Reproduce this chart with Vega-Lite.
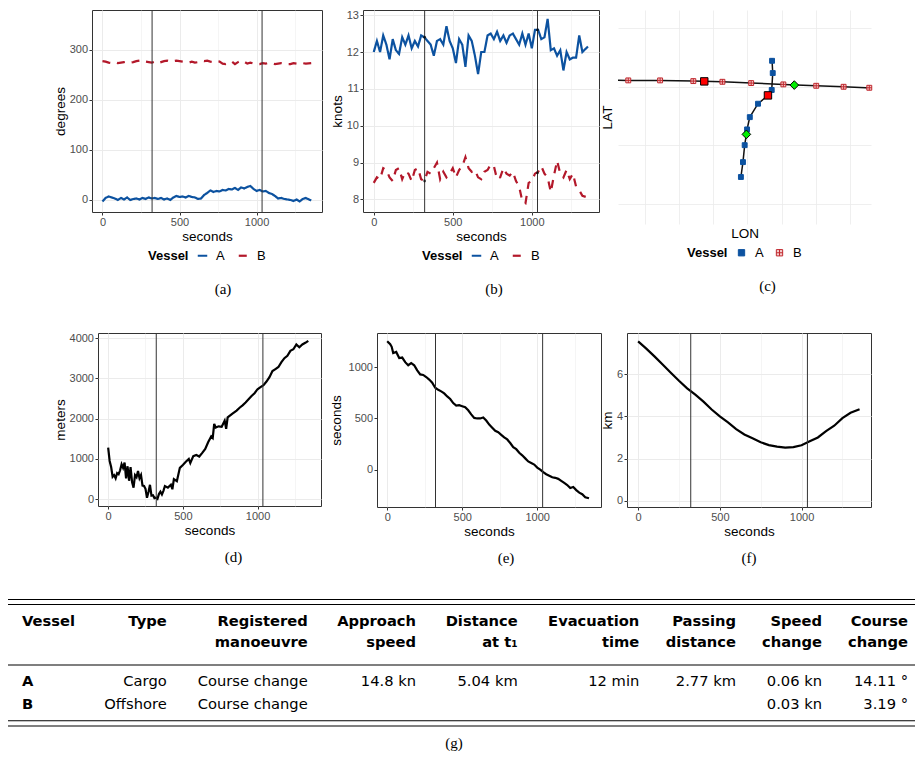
{
"$schema": "https://vega.github.io/schema/vega-lite/v6.json",
"padding": {"left": 7, "top": 8, "right": 0, "bottom": 0},
"datasets": {
"course": [
{"t":0,"Vessel":"A","deg":-3},{"t":20,"Vessel":"A","deg":4},{"t":40,"Vessel":"A","deg":7},{"t":60,"Vessel":"A","deg":5},{"t":80,"Vessel":"A","deg":3},{"t":100,"Vessel":"A","deg":0},{"t":120,"Vessel":"A","deg":4},{"t":140,"Vessel":"A","deg":1},{"t":160,"Vessel":"A","deg":5},{"t":180,"Vessel":"A","deg":0},{"t":200,"Vessel":"A","deg":2},{"t":220,"Vessel":"A","deg":3},{"t":240,"Vessel":"A","deg":1},{"t":260,"Vessel":"A","deg":4},{"t":280,"Vessel":"A","deg":2},{"t":300,"Vessel":"A","deg":5},{"t":320,"Vessel":"A","deg":3},{"t":340,"Vessel":"A","deg":4},{"t":360,"Vessel":"A","deg":2},{"t":380,"Vessel":"A","deg":4},{"t":400,"Vessel":"A","deg":1},{"t":420,"Vessel":"A","deg":3},{"t":440,"Vessel":"A","deg":0},{"t":460,"Vessel":"A","deg":5},{"t":480,"Vessel":"A","deg":8},{"t":500,"Vessel":"A","deg":6},{"t":520,"Vessel":"A","deg":7},{"t":540,"Vessel":"A","deg":5},{"t":560,"Vessel":"A","deg":8},{"t":580,"Vessel":"A","deg":6},{"t":600,"Vessel":"A","deg":5},{"t":620,"Vessel":"A","deg":2},{"t":640,"Vessel":"A","deg":3},{"t":660,"Vessel":"A","deg":10},{"t":680,"Vessel":"A","deg":14},{"t":700,"Vessel":"A","deg":19},{"t":720,"Vessel":"A","deg":16},{"t":740,"Vessel":"A","deg":18},{"t":760,"Vessel":"A","deg":17},{"t":780,"Vessel":"A","deg":20},{"t":800,"Vessel":"A","deg":19},{"t":820,"Vessel":"A","deg":22},{"t":840,"Vessel":"A","deg":21},{"t":860,"Vessel":"A","deg":24},{"t":880,"Vessel":"A","deg":20},{"t":900,"Vessel":"A","deg":25},{"t":920,"Vessel":"A","deg":23},{"t":940,"Vessel":"A","deg":26},{"t":960,"Vessel":"A","deg":28},{"t":980,"Vessel":"A","deg":22},{"t":1000,"Vessel":"A","deg":18},{"t":1020,"Vessel":"A","deg":20},{"t":1040,"Vessel":"A","deg":17},{"t":1060,"Vessel":"A","deg":18},{"t":1080,"Vessel":"A","deg":14},{"t":1100,"Vessel":"A","deg":12},{"t":1120,"Vessel":"A","deg":8},{"t":1140,"Vessel":"A","deg":3},{"t":1160,"Vessel":"A","deg":4},{"t":1180,"Vessel":"A","deg":2},{"t":1200,"Vessel":"A","deg":1},{"t":1220,"Vessel":"A","deg":0},{"t":1240,"Vessel":"A","deg":-2},{"t":1260,"Vessel":"A","deg":1},{"t":1280,"Vessel":"A","deg":-3},{"t":1300,"Vessel":"A","deg":2},{"t":1320,"Vessel":"A","deg":4},{"t":1355,"Vessel":"A","deg":-1},
{"t":0,"Vessel":"B","deg":277},{"t":20,"Vessel":"B","deg":276},{"t":40,"Vessel":"B","deg":274},{"t":60,"Vessel":"B","deg":273},{"t":80,"Vessel":"B","deg":275},{"t":100,"Vessel":"B","deg":273},{"t":120,"Vessel":"B","deg":274},{"t":140,"Vessel":"B","deg":275},{"t":160,"Vessel":"B","deg":276},{"t":180,"Vessel":"B","deg":274},{"t":200,"Vessel":"B","deg":275},{"t":220,"Vessel":"B","deg":277},{"t":240,"Vessel":"B","deg":278},{"t":260,"Vessel":"B","deg":279},{"t":280,"Vessel":"B","deg":276},{"t":300,"Vessel":"B","deg":275},{"t":320,"Vessel":"B","deg":274},{"t":340,"Vessel":"B","deg":276},{"t":360,"Vessel":"B","deg":273},{"t":380,"Vessel":"B","deg":275},{"t":400,"Vessel":"B","deg":277},{"t":420,"Vessel":"B","deg":278},{"t":440,"Vessel":"B","deg":276},{"t":460,"Vessel":"B","deg":277},{"t":480,"Vessel":"B","deg":278},{"t":500,"Vessel":"B","deg":277},{"t":520,"Vessel":"B","deg":276},{"t":540,"Vessel":"B","deg":275},{"t":560,"Vessel":"B","deg":274},{"t":580,"Vessel":"B","deg":276},{"t":600,"Vessel":"B","deg":274},{"t":620,"Vessel":"B","deg":275},{"t":640,"Vessel":"B","deg":278},{"t":660,"Vessel":"B","deg":277},{"t":680,"Vessel":"B","deg":278},{"t":700,"Vessel":"B","deg":276},{"t":720,"Vessel":"B","deg":275},{"t":740,"Vessel":"B","deg":277},{"t":760,"Vessel":"B","deg":276},{"t":780,"Vessel":"B","deg":272},{"t":800,"Vessel":"B","deg":271},{"t":820,"Vessel":"B","deg":274},{"t":840,"Vessel":"B","deg":276},{"t":860,"Vessel":"B","deg":271},{"t":880,"Vessel":"B","deg":275},{"t":900,"Vessel":"B","deg":278},{"t":920,"Vessel":"B","deg":276},{"t":940,"Vessel":"B","deg":272},{"t":960,"Vessel":"B","deg":274},{"t":980,"Vessel":"B","deg":272},{"t":1000,"Vessel":"B","deg":271},{"t":1020,"Vessel":"B","deg":271},{"t":1040,"Vessel":"B","deg":273},{"t":1060,"Vessel":"B","deg":272},{"t":1080,"Vessel":"B","deg":274},{"t":1100,"Vessel":"B","deg":273},{"t":1120,"Vessel":"B","deg":271},{"t":1140,"Vessel":"B","deg":272},{"t":1160,"Vessel":"B","deg":273},{"t":1180,"Vessel":"B","deg":272},{"t":1200,"Vessel":"B","deg":271},{"t":1220,"Vessel":"B","deg":271},{"t":1240,"Vessel":"B","deg":273},{"t":1260,"Vessel":"B","deg":272},{"t":1280,"Vessel":"B","deg":274},{"t":1300,"Vessel":"B","deg":273},{"t":1320,"Vessel":"B","deg":272},{"t":1355,"Vessel":"B","deg":273}
],
"speed": [
{"t":0,"Vessel":"A","kn":12.0},{"t":20,"Vessel":"A","kn":12.3},{"t":40,"Vessel":"A","kn":12.0},{"t":60,"Vessel":"A","kn":12.45},{"t":80,"Vessel":"A","kn":12.2},{"t":100,"Vessel":"A","kn":11.8},{"t":120,"Vessel":"A","kn":12.35},{"t":140,"Vessel":"A","kn":12.05},{"t":160,"Vessel":"A","kn":11.95},{"t":180,"Vessel":"A","kn":12.4},{"t":200,"Vessel":"A","kn":12.2},{"t":220,"Vessel":"A","kn":12.45},{"t":240,"Vessel":"A","kn":12.1},{"t":260,"Vessel":"A","kn":12.3},{"t":280,"Vessel":"A","kn":12.15},{"t":300,"Vessel":"A","kn":12.45},{"t":320,"Vessel":"A","kn":12.4},{"t":340,"Vessel":"A","kn":12.3},{"t":360,"Vessel":"A","kn":12.2},{"t":380,"Vessel":"A","kn":11.9},{"t":400,"Vessel":"A","kn":12.3},{"t":420,"Vessel":"A","kn":12.35},{"t":440,"Vessel":"A","kn":12.2},{"t":460,"Vessel":"A","kn":12.7},{"t":480,"Vessel":"A","kn":12.3},{"t":500,"Vessel":"A","kn":12.1},{"t":520,"Vessel":"A","kn":11.7},{"t":540,"Vessel":"A","kn":12.35},{"t":560,"Vessel":"A","kn":12.2},{"t":580,"Vessel":"A","kn":11.6},{"t":600,"Vessel":"A","kn":12.45},{"t":620,"Vessel":"A","kn":12.3},{"t":640,"Vessel":"A","kn":11.9},{"t":660,"Vessel":"A","kn":11.4},{"t":680,"Vessel":"A","kn":12.0},{"t":700,"Vessel":"A","kn":12.0},{"t":720,"Vessel":"A","kn":12.45},{"t":740,"Vessel":"A","kn":12.5},{"t":760,"Vessel":"A","kn":12.35},{"t":780,"Vessel":"A","kn":12.55},{"t":800,"Vessel":"A","kn":12.3},{"t":820,"Vessel":"A","kn":12.45},{"t":840,"Vessel":"A","kn":12.25},{"t":860,"Vessel":"A","kn":12.45},{"t":880,"Vessel":"A","kn":12.5},{"t":900,"Vessel":"A","kn":12.35},{"t":920,"Vessel":"A","kn":12.2},{"t":940,"Vessel":"A","kn":12.5},{"t":960,"Vessel":"A","kn":12.2},{"t":980,"Vessel":"A","kn":12.5},{"t":1000,"Vessel":"A","kn":12.1},{"t":1020,"Vessel":"A","kn":12.6},{"t":1040,"Vessel":"A","kn":12.6},{"t":1060,"Vessel":"A","kn":12.35},{"t":1080,"Vessel":"A","kn":12.4},{"t":1100,"Vessel":"A","kn":12.9},{"t":1120,"Vessel":"A","kn":12.05},{"t":1140,"Vessel":"A","kn":12.1},{"t":1160,"Vessel":"A","kn":11.9},{"t":1180,"Vessel":"A","kn":12.05},{"t":1200,"Vessel":"A","kn":11.5},{"t":1220,"Vessel":"A","kn":12.0},{"t":1240,"Vessel":"A","kn":11.8},{"t":1260,"Vessel":"A","kn":11.85},{"t":1280,"Vessel":"A","kn":11.85},{"t":1300,"Vessel":"A","kn":12.45},{"t":1320,"Vessel":"A","kn":12.0},{"t":1355,"Vessel":"A","kn":12.15},
{"t":0,"Vessel":"B","kn":8.45},{"t":20,"Vessel":"B","kn":8.6},{"t":40,"Vessel":"B","kn":8.55},{"t":60,"Vessel":"B","kn":8.85},{"t":80,"Vessel":"B","kn":8.8},{"t":100,"Vessel":"B","kn":8.6},{"t":120,"Vessel":"B","kn":8.5},{"t":140,"Vessel":"B","kn":8.8},{"t":160,"Vessel":"B","kn":8.85},{"t":180,"Vessel":"B","kn":8.55},{"t":200,"Vessel":"B","kn":8.75},{"t":220,"Vessel":"B","kn":8.7},{"t":240,"Vessel":"B","kn":8.5},{"t":260,"Vessel":"B","kn":8.8},{"t":280,"Vessel":"B","kn":8.85},{"t":300,"Vessel":"B","kn":8.55},{"t":320,"Vessel":"B","kn":8.5},{"t":340,"Vessel":"B","kn":8.75},{"t":360,"Vessel":"B","kn":8.7},{"t":380,"Vessel":"B","kn":8.85},{"t":400,"Vessel":"B","kn":9.0},{"t":420,"Vessel":"B","kn":8.55},{"t":440,"Vessel":"B","kn":8.75},{"t":460,"Vessel":"B","kn":8.6},{"t":480,"Vessel":"B","kn":8.7},{"t":500,"Vessel":"B","kn":8.85},{"t":520,"Vessel":"B","kn":8.6},{"t":540,"Vessel":"B","kn":8.8},{"t":560,"Vessel":"B","kn":8.9},{"t":580,"Vessel":"B","kn":9.15},{"t":600,"Vessel":"B","kn":8.85},{"t":620,"Vessel":"B","kn":8.75},{"t":640,"Vessel":"B","kn":8.8},{"t":660,"Vessel":"B","kn":8.6},{"t":680,"Vessel":"B","kn":8.55},{"t":700,"Vessel":"B","kn":8.75},{"t":720,"Vessel":"B","kn":8.8},{"t":740,"Vessel":"B","kn":8.95},{"t":760,"Vessel":"B","kn":8.9},{"t":780,"Vessel":"B","kn":8.55},{"t":800,"Vessel":"B","kn":8.6},{"t":820,"Vessel":"B","kn":8.85},{"t":840,"Vessel":"B","kn":8.7},{"t":860,"Vessel":"B","kn":8.65},{"t":880,"Vessel":"B","kn":8.75},{"t":900,"Vessel":"B","kn":8.5},{"t":920,"Vessel":"B","kn":8.35},{"t":940,"Vessel":"B","kn":7.95},{"t":960,"Vessel":"B","kn":7.9},{"t":980,"Vessel":"B","kn":8.45},{"t":1000,"Vessel":"B","kn":8.5},{"t":1020,"Vessel":"B","kn":8.7},{"t":1040,"Vessel":"B","kn":8.75},{"t":1060,"Vessel":"B","kn":8.9},{"t":1080,"Vessel":"B","kn":8.7},{"t":1100,"Vessel":"B","kn":8.6},{"t":1120,"Vessel":"B","kn":8.2},{"t":1140,"Vessel":"B","kn":8.65},{"t":1160,"Vessel":"B","kn":9.05},{"t":1180,"Vessel":"B","kn":8.7},{"t":1200,"Vessel":"B","kn":8.6},{"t":1220,"Vessel":"B","kn":8.8},{"t":1240,"Vessel":"B","kn":8.55},{"t":1260,"Vessel":"B","kn":8.7},{"t":1280,"Vessel":"B","kn":8.35},{"t":1300,"Vessel":"B","kn":8.25},{"t":1320,"Vessel":"B","kn":8.1},{"t":1355,"Vessel":"B","kn":8.05}
],
"speedmarks": [
{"t":322,"Vessel":"A","kn":12.4},{"t":322,"Vessel":"B","kn":8.5},{"t":1036,"Vessel":"A","kn":12.6},{"t":1036,"Vessel":"B","kn":8.72}
],
"dist": [
{"t":0,"m":1280},{"t":10,"m":950},{"t":20,"m":800},{"t":30,"m":560},{"t":40,"m":600},{"t":50,"m":520},{"t":60,"m":650},{"t":70,"m":620},{"t":80,"m":720},{"t":90,"m":870},{"t":100,"m":780},{"t":110,"m":910},{"t":120,"m":520},{"t":130,"m":820},{"t":140,"m":460},{"t":150,"m":800},{"t":160,"m":430},{"t":170,"m":290},{"t":180,"m":600},{"t":190,"m":550},{"t":200,"m":700},{"t":210,"m":520},{"t":220,"m":600},{"t":230,"m":340},{"t":240,"m":330},{"t":250,"m":260},{"t":260,"m":40},{"t":270,"m":180},{"t":280,"m":360},{"t":290,"m":90},{"t":300,"m":100},{"t":310,"m":30},{"t":320,"m":40},{"t":330,"m":10},{"t":340,"m":130},{"t":350,"m":190},{"t":360,"m":120},{"t":370,"m":210},{"t":380,"m":330},{"t":400,"m":290},{"t":420,"m":360},{"t":430,"m":250},{"t":440,"m":500},{"t":460,"m":450},{"t":480,"m":780},{"t":500,"m":850},{"t":520,"m":930},{"t":540,"m":1000},{"t":550,"m":900},{"t":570,"m":1070},{"t":590,"m":1100},{"t":610,"m":1060},{"t":630,"m":1150},{"t":650,"m":1250},{"t":670,"m":1420},{"t":690,"m":1560},{"t":700,"m":1520},{"t":710,"m":1870},{"t":720,"m":1780},{"t":740,"m":1810},{"t":760,"m":1800},{"t":780,"m":1950},{"t":790,"m":1750},{"t":800,"m":2030},{"t":830,"m":2120},{"t":860,"m":2200},{"t":880,"m":2270},{"t":900,"m":2330},{"t":920,"m":2400},{"t":940,"m":2480},{"t":960,"m":2560},{"t":980,"m":2630},{"t":1000,"m":2730},{"t":1020,"m":2780},{"t":1040,"m":2830},{"t":1060,"m":2920},{"t":1080,"m":3030},{"t":1100,"m":3180},{"t":1120,"m":3230},{"t":1140,"m":3280},{"t":1160,"m":3400},{"t":1180,"m":3500},{"t":1200,"m":3560},{"t":1220,"m":3680},{"t":1240,"m":3720},{"t":1260,"m":3840},{"t":1280,"m":3770},{"t":1300,"m":3840},{"t":1320,"m":3880},{"t":1340,"m":3930}
],
"tcpa": [
{"t":0,"tc":1255},{"t":20,"tc":1225},{"t":30,"tc":1200},{"t":40,"tc":1140},{"t":60,"tc":1150},{"t":80,"tc":1090},{"t":100,"tc":1095},{"t":120,"tc":1050},{"t":140,"tc":1020},{"t":160,"tc":1040},{"t":180,"tc":1020},{"t":200,"tc":970},{"t":220,"tc":930},{"t":240,"tc":925},{"t":260,"tc":905},{"t":280,"tc":880},{"t":300,"tc":850},{"t":320,"tc":800},{"t":340,"tc":780},{"t":360,"tc":765},{"t":380,"tc":745},{"t":400,"tc":715},{"t":420,"tc":690},{"t":440,"tc":650},{"t":460,"tc":625},{"t":480,"tc":630},{"t":500,"tc":620},{"t":520,"tc":610},{"t":540,"tc":580},{"t":560,"tc":540},{"t":580,"tc":505},{"t":600,"tc":500},{"t":620,"tc":500},{"t":640,"tc":510},{"t":660,"tc":480},{"t":680,"tc":440},{"t":700,"tc":410},{"t":720,"tc":380},{"t":740,"tc":365},{"t":760,"tc":340},{"t":780,"tc":315},{"t":800,"tc":295},{"t":820,"tc":260},{"t":840,"tc":220},{"t":860,"tc":200},{"t":880,"tc":165},{"t":900,"tc":140},{"t":920,"tc":110},{"t":940,"tc":80},{"t":960,"tc":65},{"t":980,"tc":50},{"t":1000,"tc":20},{"t":1020,"tc":0},{"t":1040,"tc":-25},{"t":1060,"tc":-45},{"t":1080,"tc":-60},{"t":1100,"tc":-75},{"t":1120,"tc":-80},{"t":1140,"tc":-90},{"t":1160,"tc":-110},{"t":1180,"tc":-130},{"t":1200,"tc":-150},{"t":1220,"tc":-180},{"t":1240,"tc":-170},{"t":1260,"tc":-200},{"t":1280,"tc":-225},{"t":1300,"tc":-240},{"t":1320,"tc":-270},{"t":1345,"tc":-280}
],
"cpa": [
{"t":0,"km":7.56},{"t":50,"km":7.22},{"t":100,"km":6.85},{"t":150,"km":6.46},{"t":200,"km":6.07},{"t":250,"km":5.69},{"t":300,"km":5.33},{"t":350,"km":5.03},{"t":400,"km":4.70},{"t":450,"km":4.33},{"t":500,"km":4.0},{"t":550,"km":3.72},{"t":600,"km":3.40},{"t":650,"km":3.14},{"t":700,"km":2.96},{"t":750,"km":2.77},{"t":800,"km":2.64},{"t":850,"km":2.57},{"t":900,"km":2.52},{"t":950,"km":2.54},{"t":1000,"km":2.63},{"t":1050,"km":2.82},{"t":1100,"km":3.0},{"t":1150,"km":3.3},{"t":1200,"km":3.56},{"t":1250,"km":3.92},{"t":1300,"km":4.17},{"t":1355,"km":4.34}
],
"vlines": [{"t":322},{"t":1036}],
"track": [
{"Vessel":"A","i":0,"lon":2.81,"lat":1.91},{"Vessel":"A","i":1,"lon":2.87,"lat":2.42},{"Vessel":"A","i":2,"lon":2.92,"lat":3.0},{"Vessel":"A","i":3,"lon":2.97,"lat":3.37},{"Vessel":"A","i":4,"lon":2.99,"lat":3.54},{"Vessel":"A","i":5,"lon":3.07,"lat":3.96},{"Vessel":"A","i":6,"lon":3.31,"lat":4.42},{"Vessel":"A","i":7,"lon":3.6,"lat":4.705},{"Vessel":"A","i":8,"lon":3.71,"lat":4.89},{"Vessel":"A","i":9,"lon":3.74,"lat":5.47},{"Vessel":"A","i":10,"lon":3.72,"lat":5.89},{"Vessel":"A","i":11,"lon":3.72,"lat":5.98},
{"Vessel":"B","i":0,"lon":6.61,"lat":4.955},{"Vessel":"B","i":1,"lon":5.81,"lat":5.0},{"Vessel":"B","i":2,"lon":5.01,"lat":5.034},{"Vessel":"B","i":3,"lon":4.05,"lat":5.082},{"Vessel":"B","i":4,"lon":3.11,"lat":5.127},{"Vessel":"B","i":5,"lon":2.27,"lat":5.171},{"Vessel":"B","i":6,"lon":1.42,"lat":5.195},{"Vessel":"B","i":7,"lon":0.45,"lat":5.219},{"Vessel":"B","i":8,"lon":-0.48,"lat":5.219},{"Vessel":"B","i":9,"lon":-0.78,"lat":5.225}
],
"trackpts": [
{"Vessel":"A","lon":3.72,"lat":5.89},{"Vessel":"A","lon":3.74,"lat":5.47},{"Vessel":"A","lon":3.71,"lat":4.89},{"Vessel":"A","lon":3.31,"lat":4.42},{"Vessel":"A","lon":3.07,"lat":3.96},{"Vessel":"A","lon":2.99,"lat":3.54},{"Vessel":"A","lon":2.92,"lat":3.0},{"Vessel":"A","lon":2.87,"lat":2.42},{"Vessel":"A","lon":2.81,"lat":1.91},
{"Vessel":"B","lon":-0.48,"lat":5.219},{"Vessel":"B","lon":0.45,"lat":5.219},{"Vessel":"B","lon":1.42,"lat":5.195},{"Vessel":"B","lon":2.27,"lat":5.171},{"Vessel":"B","lon":3.11,"lat":5.127},{"Vessel":"B","lon":4.05,"lat":5.082},{"Vessel":"B","lon":5.01,"lat":5.034},{"Vessel":"B","lon":5.81,"lat":5.0},{"Vessel":"B","lon":6.56,"lat":4.966}
],
"events": [
{"Vessel":"A","event":"t1","lon":2.97,"lat":3.37},{"Vessel":"B","event":"t1","lon":4.37,"lat":5.058},
{"Vessel":"A","event":"t2","lon":3.6,"lat":4.705},{"Vessel":"B","event":"t2","lon":1.74,"lat":5.185}
],
"cells": [
{"row":1,"col":0,"text":"Vessel"},{"row":1,"col":1,"text":"Type"},{"row":1,"col":2,"text":"Registered"},{"row":1,"col":3,"text":"Approach"},{"row":1,"col":4,"text":"Distance"},{"row":1,"col":5,"text":"Evacuation"},{"row":1,"col":6,"text":"Passing"},{"row":1,"col":7,"text":"Speed"},{"row":1,"col":8,"text":"Course"},
{"row":2,"col":2,"text":"manoeuvre"},{"row":2,"col":3,"text":"speed"},{"row":2,"col":4,"text":"at t₁"},{"row":2,"col":5,"text":"time"},{"row":2,"col":6,"text":"distance"},{"row":2,"col":7,"text":"change"},{"row":2,"col":8,"text":"change"},
{"row":3,"col":0,"text":"A"},{"row":3,"col":1,"text":"Cargo"},{"row":3,"col":2,"text":"Course change"},{"row":3,"col":3,"text":"14.8 kn"},{"row":3,"col":4,"text":"5.04 km"},{"row":3,"col":5,"text":"12 min"},{"row":3,"col":6,"text":"2.77 km"},{"row":3,"col":7,"text":"0.06 kn"},{"row":3,"col":8,"text":"14.11 °"},
{"row":4,"col":0,"text":"B"},{"row":4,"col":1,"text":"Offshore"},{"row":4,"col":2,"text":"Course change"},{"row":4,"col":7,"text":"0.03 kn"},{"row":4,"col":8,"text":"3.19 °"}
],
"rules": [{"order":0},{"order":1},{"order":2},{"order":3},{"order":4}]
},
"vconcat": [
{
"vconcat": [
{
"hconcat": [
{
"hconcat": [
{"width": 38, "height": 10, "view": {"stroke": null}, "data": {"values": []}, "mark": {"type": "point"}, "encoding": {}},
{
"width": 230, "height": 202,
"title": {"text": "(a)", "dx": 16, "offset": 19},
"layer": [
{"data": {"name": "course"}, "mark": {"type": "line", "strokeWidth": 2.2},
 "encoding": {
  "x": {"field": "t", "type": "quantitative", "title": "seconds", "scale": {"domain": [-68, 1425], "nice": false, "zero": false},
        "axis": {"values": [0,250,500,750,1000,1250], "format": "d", "labelExpr": "datum.value % 500 === 0 ? datum.label : ''",
                 "tickOpacity": {"condition": {"test": "datum.value % 500 === 0", "value": 1}, "value": 0},
                 "gridWidth": {"condition": {"test": "datum.value % 500 === 0", "value": 1}, "value": 0.5}}},
  "y": {"field": "deg", "type": "quantitative", "title": "degrees", "scale": {"domain": [-24, 379], "nice": false, "zero": false},
        "axis": {"values": [0,50,100,150,200,250,300,350], "format": "d", "labelExpr": "datum.value % 100 === 0 ? datum.label : ''",
                 "tickOpacity": {"condition": {"test": "datum.value % 100 === 0", "value": 1}, "value": 0},
                 "gridWidth": {"condition": {"test": "datum.value % 100 === 0", "value": 1}, "value": 0.5}}},
  "color": {"field": "Vessel", "type": "nominal", "scale": {"domain": ["A","B"], "range": ["#0c52a0", "#b3182a"]}, "legend": {"symbolType": "stroke", "symbolSize": 90, "symbolStrokeWidth": 2.2}},
  "strokeDash": {"field": "Vessel", "type": "nominal", "scale": {"domain": ["A","B"], "range": [[1,0],[8,7]]}}
 }},
{"data": {"name": "vlines"}, "mark": {"type": "rule", "color": "#333333", "strokeWidth": 1},
 "encoding": {"x": {"field": "t", "type": "quantitative"}}},
{"mark": {"type": "rule", "color": "#333333", "strokeWidth": 1},
 "encoding": {"y": {"datum": 0}}}
]
},
{
"width": 236, "height": 202,
"title": {"text": "(b)", "dx": 13, "offset": 19},
"layer": [
{"data": {"name": "speed"}, "mark": {"type": "line", "strokeWidth": 2.2},
 "encoding": {
  "x": {"field": "t", "type": "quantitative", "title": "seconds", "scale": {"domain": [-68, 1425], "nice": false, "zero": false},
        "axis": {"values": [0,250,500,750,1000,1250], "format": "d", "labelExpr": "datum.value % 500 === 0 ? datum.label : ''",
                 "tickOpacity": {"condition": {"test": "datum.value % 500 === 0", "value": 1}, "value": 0},
                 "gridWidth": {"condition": {"test": "datum.value % 500 === 0", "value": 1}, "value": 0.5}}},
  "y": {"field": "kn", "type": "quantitative", "title": "knots", "scale": {"domain": [7.66, 13.14], "nice": false, "zero": false},
        "axis": {"values": [8,8.5,9,9.5,10,10.5,11,11.5,12,12.5,13], "format": "d", "labelExpr": "datum.value % 1 === 0 ? datum.label : ''",
                 "tickOpacity": {"condition": {"test": "datum.value % 1 === 0", "value": 1}, "value": 0},
                 "gridWidth": {"condition": {"test": "datum.value % 1 === 0", "value": 1}, "value": 0.5}}},
  "color": {"field": "Vessel", "type": "nominal", "scale": {"domain": ["A","B"], "range": ["#0c52a0", "#b3182a"]}, "legend": {"symbolType": "stroke", "symbolSize": 90, "symbolStrokeWidth": 2.2}},
  "strokeDash": {"field": "Vessel", "type": "nominal", "scale": {"domain": ["A","B"], "range": [[1,0],[8,7]]}}
 }},
{"data": {"name": "vlines"}, "mark": {"type": "rule", "color": "#333333", "strokeWidth": 1},
 "encoding": {"x": {"field": "t", "type": "quantitative"}}},
{"data": {"name": "speedmarks"}, "mark": {"type": "point", "filled": true, "color": "#000000", "size": 8},
 "encoding": {"x": {"field": "t", "type": "quantitative"}, "y": {"field": "kn", "type": "quantitative"}}}
]
}
],
"spacing": 6,
"resolve": {"scale": {"color": "independent", "strokeDash": "independent"}, "legend": {"color": "independent", "strokeDash": "independent"}}
},
{
"width": 253, "height": 214,
"view": {"stroke": null},
"title": {"text": "(c)", "dx": 23, "offset": 19},
"layer": [
{"data": {"name": "track"}, "mark": {"type": "line", "color": "#111111", "strokeWidth": 1.5},
 "encoding": {
  "x": {"field": "lon", "type": "quantitative", "title": "LON", "scale": {"domain": [-0.78, 6.61], "nice": false, "zero": false},
        "axis": {"values": [0,1,2,3,4,5,6], "labels": false, "ticks": false, "gridWidth": 0.8, "titlePadding": 2}},
  "y": {"field": "lat", "type": "quantitative", "title": "LAT", "scale": {"domain": [0.3, 7.63], "nice": false, "zero": false},
        "axis": {"values": [1,2,3,4,5,6,7], "labels": false, "ticks": false, "gridWidth": 0.8, "titlePadding": 4}},
  "detail": {"field": "Vessel", "type": "nominal"},
  "order": {"field": "i", "type": "quantitative"}
 }},
{"data": {"name": "trackpts"}, "mark": {"type": "point", "size": 24, "strokeWidth": 1, "opacity": 1},
 "encoding": {
  "x": {"field": "lon", "type": "quantitative"},
  "y": {"field": "lat", "type": "quantitative"},
  "shape": {"field": "Vessel", "type": "nominal", "scale": {"domain": ["A","B"], "range": ["square", "M-1,-1H1V1H-1Z M-1,0H1 M0,-1V1"]}, "legend": {"symbolSize": 40, "symbolStrokeWidth": 1}},
  "fill": {"field": "Vessel", "type": "nominal", "scale": {"domain": ["A","B"], "range": ["#0c52a0", "#f4cccc"]}},
  "stroke": {"field": "Vessel", "type": "nominal", "scale": {"domain": ["A","B"], "range": ["#0c52a0", "#c0282e"]}}
 }},
{"data": {"name": "events"}, "transform": [{"filter": "datum.event === 't2'"}],
 "mark": {"type": "point", "shape": "square", "filled": true, "fill": "#ff0000", "stroke": "#000000", "strokeWidth": 1, "size": 55, "opacity": 1},
 "encoding": {"x": {"field": "lon", "type": "quantitative"}, "y": {"field": "lat", "type": "quantitative"}}},
{"data": {"name": "events"}, "transform": [{"filter": "datum.event === 't1'"}],
 "mark": {"type": "point", "shape": "diamond", "filled": true, "fill": "#00ee00", "stroke": "#000000", "strokeWidth": 1, "size": 75, "opacity": 1},
 "encoding": {"x": {"field": "lon", "type": "quantitative"}, "y": {"field": "lat", "type": "quantitative"}}}
]
}
],
"spacing": 0,
"resolve": {"scale": {"color": "independent", "strokeDash": "independent", "shape": "independent", "fill": "independent", "stroke": "independent"}, "legend": {"color": "independent", "strokeDash": "independent", "shape": "independent", "fill": "independent", "stroke": "independent"}}
},
{
"hconcat": [
{
"hconcat": [
{"width": 38, "height": 10, "view": {"stroke": null}, "data": {"values": []}, "mark": {"type": "point"}, "encoding": {}},
{
"width": 223, "height": 173,
"title": {"text": "(d)", "dx": 24, "offset": 13},
"layer": [
{"data": {"name": "dist"}, "mark": {"type": "line", "strokeWidth": 2.2, "color": "#000000"},
 "encoding": {
  "x": {"field": "t", "type": "quantitative", "title": "seconds", "scale": {"domain": [-68, 1425], "nice": false, "zero": false},
        "axis": {"values": [0,250,500,750,1000,1250], "format": "d", "labelExpr": "datum.value % 500 === 0 ? datum.label : ''",
                 "tickOpacity": {"condition": {"test": "datum.value % 500 === 0", "value": 1}, "value": 0},
                 "gridWidth": {"condition": {"test": "datum.value % 500 === 0", "value": 1}, "value": 0.5}}},
  "y": {"field": "m", "type": "quantitative", "title": "meters", "scale": {"domain": [-166, 4124], "nice": false, "zero": false},
        "axis": {"values": [0,500,1000,1500,2000,2500,3000,3500,4000], "format": "d", "labelExpr": "datum.value % 1000 === 0 ? datum.label : ''",
                 "tickOpacity": {"condition": {"test": "datum.value % 1000 === 0", "value": 1}, "value": 0},
                 "gridWidth": {"condition": {"test": "datum.value % 1000 === 0", "value": 1}, "value": 0.5}}}
 }},
{"data": {"name": "vlines"}, "mark": {"type": "rule", "color": "#333333", "strokeWidth": 1},
 "encoding": {"x": {"field": "t", "type": "quantitative"}}},
{"mark": {"type": "rule", "color": "#333333", "strokeWidth": 1},
 "encoding": {"y": {"datum": 0}}}
]
},
{
"width": 224, "height": 174,
"title": {"text": "(e)", "dx": 17, "offset": 13},
"layer": [
{"mark": {"type": "rule", "color": "#ebebeb", "strokeWidth": 0.5},
 "encoding": {"y": {"datum": -250}}},
{"data": {"name": "tcpa"}, "mark": {"type": "line", "strokeWidth": 2.2, "color": "#000000"},
 "encoding": {
  "x": {"field": "t", "type": "quantitative", "title": "seconds", "scale": {"domain": [-68, 1425], "nice": false, "zero": false},
        "axis": {"values": [0,250,500,750,1000,1250], "format": "d", "labelExpr": "datum.value % 500 === 0 ? datum.label : ''",
                 "tickOpacity": {"condition": {"test": "datum.value % 500 === 0", "value": 1}, "value": 0},
                 "gridWidth": {"condition": {"test": "datum.value % 500 === 0", "value": 1}, "value": 0.5}}},
  "y": {"field": "tc", "type": "quantitative", "title": "seconds", "scale": {"domain": [-365, 1335], "nice": false, "zero": false},
        "axis": {"values": [0,250,500,750,1000,1250], "format": "d", "labelExpr": "datum.value % 500 === 0 ? datum.label : ''", "titlePadding": 5,
                 "tickOpacity": {"condition": {"test": "datum.value % 500 === 0", "value": 1}, "value": 0},
                 "gridWidth": {"condition": {"test": "datum.value % 500 === 0", "value": 1}, "value": 0.5}}}
 }},
{"data": {"name": "vlines"}, "mark": {"type": "rule", "color": "#333333", "strokeWidth": 1},
 "encoding": {"x": {"field": "t", "type": "quantitative"}}},
{"mark": {"type": "rule", "color": "#333333", "strokeWidth": 1},
 "encoding": {"y": {"datum": 0}}}
]
}
],
"spacing": 6
},
{
"width": 244, "height": 174,
"title": {"text": "(f)", "dx": 0, "offset": 13},
"layer": [
{"data": {"name": "cpa"}, "mark": {"type": "line", "strokeWidth": 2.2, "color": "#000000"},
 "encoding": {
  "x": {"field": "t", "type": "quantitative", "title": "seconds", "scale": {"domain": [-68, 1425], "nice": false, "zero": false},
        "axis": {"values": [0,250,500,750,1000,1250], "format": "d", "labelExpr": "datum.value % 500 === 0 ? datum.label : ''",
                 "tickOpacity": {"condition": {"test": "datum.value % 500 === 0", "value": 1}, "value": 0},
                 "gridWidth": {"condition": {"test": "datum.value % 500 === 0", "value": 1}, "value": 0.5}}},
  "y": {"field": "km", "type": "quantitative", "title": "km", "scale": {"domain": [-0.3, 7.96], "nice": false, "zero": false},
        "axis": {"values": [0,1,2,3,4,5,6,7], "format": "d", "labelExpr": "datum.value % 2 === 0 ? datum.label : ''",
                 "tickOpacity": {"condition": {"test": "datum.value % 2 === 0", "value": 1}, "value": 0},
                 "gridWidth": {"condition": {"test": "datum.value % 2 === 0", "value": 1}, "value": 0.5}}}
 }},
{"data": {"name": "vlines"}, "mark": {"type": "rule", "color": "#333333", "strokeWidth": 1},
 "encoding": {"x": {"field": "t", "type": "quantitative"}}},
{"mark": {"type": "rule", "color": "#333333", "strokeWidth": 1},
 "encoding": {"y": {"datum": 0}}}
]
}
],
"spacing": -3
}
],
"spacing": 33
},
{
"width": 908, "height": 130,
"view": {"stroke": null},
"title": {"text": "(g)", "dx": -8, "offset": 8},
"layer": [
{"data": {"name": "rules"}, "mark": {"type": "rule", "color": "#000000", "strokeWidth": 1.1},
 "encoding": {"y": {"field": "order", "type": "quantitative", "axis": null, "scale": {"domain": [0,1,2,3,4], "range": [1.5,6.5,67,122.7,128], "nice": false, "zero": false}}}},
{"data": {"name": "cells"}, "transform": [{"filter": "datum.col === 0"}],
 "mark": {"type": "text", "align": "left", "baseline": "middle", "font": "DejaVu Sans", "fontSize": 14.7, "fontWeight": "bold", "color": "#000000"},
 "encoding": {
  "x": {"field": "col", "type": "quantitative", "axis": null, "scale": {"domain": [0,1,2,3,4,5,6,7,8], "range": [14,158.7,299.7,408,509.7,631.3,728,814,900], "nice": false, "zero": false}},
  "y": {"field": "row", "type": "quantitative", "axis": null, "scale": {"domain": [1,2,3,4], "range": [23.5,45,83.5,107], "nice": false, "zero": false}},
  "text": {"field": "text", "type": "nominal"}
 }},
{"data": {"name": "cells"}, "transform": [{"filter": "datum.col > 0 && datum.row <= 2"}],
 "mark": {"type": "text", "align": "right", "baseline": "middle", "font": "DejaVu Sans", "fontSize": 14.7, "fontWeight": "bold", "color": "#000000"},
 "encoding": {
  "x": {"field": "col", "type": "quantitative", "axis": null, "scale": {"domain": [0,1,2,3,4,5,6,7,8], "range": [14,158.7,299.7,408,509.7,631.3,728,814,900], "nice": false, "zero": false}},
  "y": {"field": "row", "type": "quantitative", "axis": null, "scale": {"domain": [1,2,3,4], "range": [23.5,45,83.5,107], "nice": false, "zero": false}},
  "text": {"field": "text", "type": "nominal"}
 }},
{"data": {"name": "cells"}, "transform": [{"filter": "datum.col > 0 && datum.row > 2"}],
 "mark": {"type": "text", "align": "right", "baseline": "middle", "font": "DejaVu Sans", "fontSize": 14.7, "fontWeight": "normal", "color": "#000000"},
 "encoding": {
  "x": {"field": "col", "type": "quantitative", "axis": null, "scale": {"domain": [0,1,2,3,4,5,6,7,8], "range": [14,158.7,299.7,408,509.7,631.3,728,814,900], "nice": false, "zero": false}},
  "y": {"field": "row", "type": "quantitative", "axis": null, "scale": {"domain": [1,2,3,4], "range": [23.5,45,83.5,107], "nice": false, "zero": false}},
  "text": {"field": "text", "type": "nominal"}
 }}
],
"resolve": {"scale": {"y": "independent", "x": "independent"}}
}
],
"spacing": 31,
"resolve": {"scale": {"color": "independent", "strokeDash": "independent", "shape": "independent", "fill": "independent", "stroke": "independent"}},
"config": {
"font": "Liberation Sans",
"view": {"stroke": "#333333", "strokeWidth": 1},
"axis": {"domain": false, "tickColor": "#333333", "tickSize": 3, "labelColor": "#4d4d4d", "labelFontSize": 11, "labelFont": "Liberation Sans", "titleFont": "Liberation Sans", "titleFontSize": 13.5, "titleFontWeight": "normal", "titleColor": "#000000", "gridColor": "#ebebeb", "labelPadding": 1.5, "titlePadding": 2, "labelOverlap": false},
"legend": {"orient": "bottom", "direction": "horizontal", "titleOrient": "left", "titleFontSize": 13, "titleFontWeight": "bold", "titleColor": "#000000", "labelFontSize": 13, "labelColor": "#000000", "offset": 6, "titlePadding": 7, "labelOffset": 7, "columnPadding": 9, "layout": {"bottom": {"anchor": "middle"}}},
"title": {"orient": "bottom", "font": "Liberation Serif", "fontSize": 15, "fontWeight": "normal", "color": "#000000", "anchor": "middle", "frame": "group"}
}
}
